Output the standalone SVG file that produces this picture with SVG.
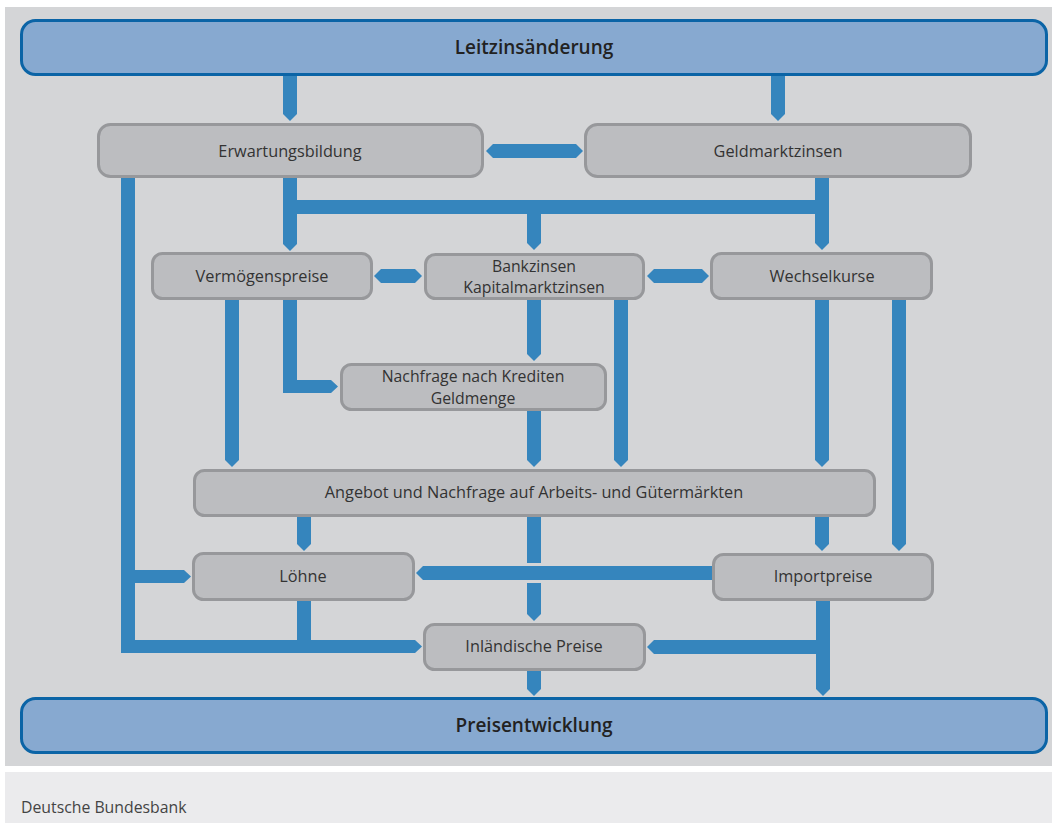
<svg xmlns="http://www.w3.org/2000/svg" width="1052" height="823" viewBox="0 0 1052 823">
<style>
.bg{fill:#d4d5d7}
.ft{fill:#ebebed}
.main{fill:#87a9d0;stroke:#0b64a6;stroke-width:3}
.box{fill:#bcbdc0;stroke:#97989b;stroke-width:3}
.c{fill:#3585bd}
text{font-family:"Open Sans","Noto Sans","DejaVu Sans",sans-serif;fill:#333;text-anchor:middle;dominant-baseline:central}
.t{font-size:16.3px}
.t2{font-size:15.8px}
.h{font-size:19px;font-weight:600;fill:#222}
.src{font-size:15.8px;text-anchor:start;fill:#444}
</style>
<rect x="0" y="0" width="1052" height="823" fill="#ffffff"/>
<rect class="bg" x="5" y="7" width="1047" height="759"/>
<rect class="ft" x="5" y="772" width="1047" height="51"/>
<text class="src" x="21" y="807">Deutsche Bundesbank</text>

<g id="connectors">
<polygon class="c" points="283,76 297,76 297,114 290,121 283,114"/>
<polygon class="c" points="771,76 785,76 785,114 778,121 771,114"/>
<polygon class="c" points="486,151 493,144 576,144 583,151 576,158 493,158"/>
<polygon class="c" points="283,178 297,178 297,244 290,251 283,244"/>
<rect class="c" x="283" y="200" width="546" height="14"/>
<polygon class="c" points="815,178 829,178 829,243 822,250 815,243"/>
<polygon class="c" points="527,214 541,214 541,243 534,250 527,243"/>
<polygon class="c" points="374,276 381,269 415,269 422,276 415,283 381,283"/>
<polygon class="c" points="647,276 654,269 702,269 709,276 702,283 654,283"/>
<polygon class="c" points="225,300 239,300 239,460 232,467 225,460"/>
<polygon class="c" points="283,300 297,300 297,380 331,380 338,386.5 331,393 283,393"/>
<polygon class="c" points="527,300 541,300 541,354 534,361 527,354"/>
<polygon class="c" points="614,300 628,300 628,460 621,467 614,460"/>
<polygon class="c" points="527,411 541,411 541,460 534,467 527,460"/>
<polygon class="c" points="815,300 829,300 829,460 822,467 815,460"/>
<polygon class="c" points="892,300 906,300 906,544 899,551 892,544"/>
<polygon class="c" points="297,517 311,517 311,544 304,551 297,544"/>
<rect class="c" x="527" y="517" width="14" height="46"/>
<polygon class="c" points="527,583 541,583 541,614 534,621 527,614"/>
<polygon class="c" points="815,517 829,517 829,544 822,551 815,544"/>
<polygon class="c" points="712,566 423,566 416,573 423,580 712,580"/>
<polygon class="c" points="121,178 135,178 135,640 415,640 422,646.5 415,653 121,653"/>
<polygon class="c" points="135,570 184,570 191,576.5 184,583 135,583"/>
<rect class="c" x="297" y="601" width="14" height="40"/>
<polygon class="c" points="816,601 830,601 830,689 823,696 816,689"/>
<polygon class="c" points="816,640 654,640 647,647 654,654 816,654"/>
<polygon class="c" points="527,671 541,671 541,689 534,696 527,689"/>
</g>

<g id="leitzins">
<rect class="main" x="21.5" y="20.5" width="1025" height="54" rx="14"/>
<text class="h" x="534" y="47">Leitzinsänderung</text>
</g>
<g id="erwartung">
<rect class="box" x="98.5" y="124.5" width="384" height="52" rx="12"/>
<text class="t" x="290" y="151">Erwartungsbildung</text>
</g>
<g id="geldmarkt">
<rect class="box" x="585.5" y="124.5" width="385" height="52" rx="12"/>
<text class="t" x="778" y="151">Geldmarktzinsen</text>
</g>
<g id="vermoegen">
<rect class="box" x="152.5" y="253.5" width="219" height="45" rx="10"/>
<text class="t" x="262" y="276">Vermögenspreise</text>
</g>
<g id="bankzinsen">
<rect class="box" x="425.5" y="254.5" width="218" height="44" rx="10"/>
<text class="t2" x="534" y="265.5">Bankzinsen</text>
<text class="t2" x="534" y="287">Kapitalmarktzinsen</text>
</g>
<g id="wechselkurse">
<rect class="box" x="711.5" y="253.5" width="220" height="45" rx="10"/>
<text class="t" x="822" y="276">Wechselkurse</text>
</g>
<g id="nachfrage">
<rect class="box" x="341.5" y="364.5" width="264" height="45" rx="10"/>
<text class="t2" x="473" y="376">Nachfrage nach Krediten</text>
<text class="t2" x="473" y="397.5">Geldmenge</text>
</g>
<g id="angebot">
<rect class="box" x="194.5" y="470.5" width="680" height="45" rx="10"/>
<text class="t" x="534" y="492">Angebot und Nachfrage auf Arbeits- und Gütermärkten</text>
</g>
<g id="loehne">
<rect class="box" x="193.5" y="553.5" width="220" height="46" rx="10"/>
<text class="t" x="303" y="576">Löhne</text>
</g>
<g id="importpreise">
<rect class="box" x="713.5" y="554.5" width="219" height="45" rx="10"/>
<text class="t" x="823" y="576">Importpreise</text>
</g>
<g id="inlaendisch">
<rect class="box" x="424.5" y="624.5" width="220" height="45" rx="10"/>
<text class="t" x="534" y="646">Inländische Preise</text>
</g>
<g id="preis">
<rect class="main" x="21.5" y="698.5" width="1025" height="54" rx="14"/>
<text class="h" x="534" y="725">Preisentwicklung</text>
</g>
</svg>
